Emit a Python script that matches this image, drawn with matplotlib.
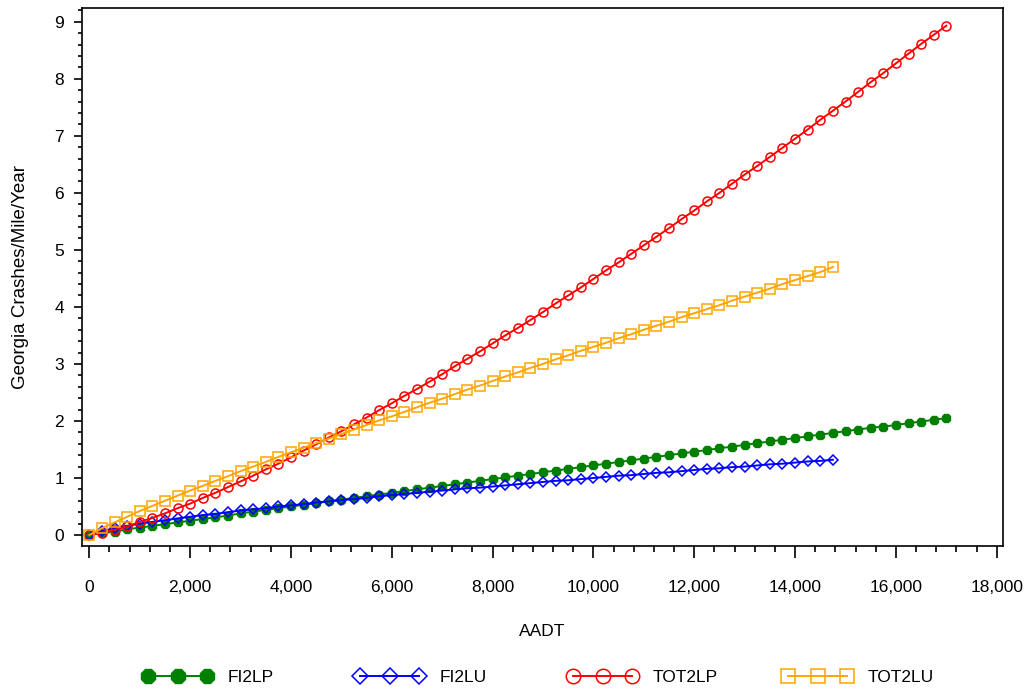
import matplotlib
matplotlib.use("Agg")
import matplotlib.pyplot as plt
from matplotlib.ticker import MultipleLocator, FuncFormatter

plt.rcParams['font.family'] = ['Liberation Sans', 'DejaVu Sans']

# AADT grid (every 250 veh/day)
aadt_lp = list(range(0, 17001, 250))
aadt_lu = list(range(0, 14751, 250))

# crashes/mile/year
fi2lp = [0, 0.03, 0.06, 0.10, 0.13, 0.16, 0.19, 0.22, 0.25, 0.28, 0.31, 0.34,
         0.38, 0.41, 0.44, 0.47, 0.50, 0.53, 0.56, 0.59, 0.62, 0.65, 0.68, 0.71,
         0.74, 0.77, 0.80, 0.83, 0.86, 0.89, 0.92, 0.95, 0.98, 1.01, 1.04, 1.07,
         1.10, 1.13, 1.16, 1.19, 1.22, 1.25, 1.28, 1.31, 1.34, 1.37, 1.40, 1.43,
         1.46, 1.49, 1.52, 1.55, 1.58, 1.61, 1.64, 1.67, 1.70, 1.73, 1.76, 1.79,
         1.82, 1.85, 1.88, 1.90, 1.93, 1.96, 1.99, 2.02, 2.05]
fi2lu = [0, 0.07, 0.12, 0.16, 0.20, 0.23, 0.26, 0.29, 0.32, 0.35, 0.37, 0.40,
         0.43, 0.45, 0.47, 0.50, 0.52, 0.54, 0.57, 0.59, 0.61, 0.63, 0.65, 0.68,
         0.70, 0.72, 0.74, 0.76, 0.78, 0.80, 0.82, 0.83, 0.85, 0.87, 0.89, 0.91,
         0.93, 0.95, 0.96, 0.98, 1.00, 1.02, 1.04, 1.05, 1.07, 1.09, 1.10, 1.12,
         1.14, 1.16, 1.17, 1.19, 1.20, 1.22, 1.24, 1.25, 1.27, 1.29, 1.30, 1.32]
tot2lp = [0, 0.04, 0.09, 0.15, 0.23, 0.30, 0.38, 0.47, 0.55, 0.65, 0.74, 0.84,
          0.94, 1.04, 1.15, 1.25, 1.36, 1.48, 1.59, 1.71, 1.82, 1.94, 2.06, 2.19,
          2.31, 2.44, 2.56, 2.69, 2.82, 2.96, 3.09, 3.22, 3.36, 3.50, 3.63, 3.77,
          3.91, 4.06, 4.20, 4.34, 4.49, 4.64, 4.78, 4.93, 5.08, 5.23, 5.38, 5.54,
          5.69, 5.85, 6.00, 6.16, 6.32, 6.47, 6.63, 6.79, 6.95, 7.11, 7.28, 7.44,
          7.60, 7.77, 7.94, 8.10, 8.27, 8.44, 8.61, 8.77, 8.93]
tot2lu = [0, 0.12, 0.22, 0.32, 0.42, 0.51, 0.60, 0.69, 0.78, 0.86, 0.95, 1.03,
          1.12, 1.20, 1.28, 1.37, 1.45, 1.53, 1.61, 1.69, 1.77, 1.85, 1.93, 2.01,
          2.08, 2.16, 2.24, 2.32, 2.39, 2.47, 2.55, 2.62, 2.70, 2.78, 2.85, 2.93,
          3.00, 3.08, 3.15, 3.23, 3.30, 3.37, 3.45, 3.52, 3.60, 3.67, 3.74, 3.82,
          3.89, 3.96, 4.03, 4.11, 4.18, 4.25, 4.32, 4.40, 4.47, 4.54, 4.61, 4.70]

fig = plt.figure(figsize=(10.33, 6.96), dpi=100)
ax = fig.add_axes([0.0791, 0.2159, 0.8919, 0.7733])

lw = 1.4
lines = []
lines += ax.plot(aadt_lp, fi2lp, color='#008000', marker='8', ms=6.5, mfc='#008000',
                 mec='#008000', mew=1.0, lw=lw, label='FI2LP')
lines += ax.plot(aadt_lu, fi2lu, color='#0000ff', marker='D', ms=5, mfc='none',
                 mec='#0000ff', mew=1.1, lw=lw, label='FI2LU')
lines += ax.plot(aadt_lp, tot2lp, color='#ff0000', marker='o', ms=6.5, mfc='none',
                 mec='#ff0000', mew=1.1, lw=lw, label='TOT2LP')
lines += ax.plot(aadt_lu, tot2lu, color='#ffa500', marker='s', ms=6.5, mfc='none',
                 mec='#ffa500', mew=1.1, lw=lw, label='TOT2LU')

ax.set_xlim(-151, 18125)
ax.set_ylim(-0.188, 9.249)

ax.xaxis.set_major_locator(MultipleLocator(2000))
ax.xaxis.set_minor_locator(MultipleLocator(400))
ax.yaxis.set_major_locator(MultipleLocator(1))
ax.yaxis.set_minor_locator(MultipleLocator(0.2))
ax.xaxis.set_major_formatter(FuncFormatter(lambda v, p: f"{int(v):,}"))

for s in ax.spines.values():
    s.set_linewidth(1.2)

ax.tick_params(axis='x', which='major', direction='out', length=8.6, width=1.2,
               labelsize=12.5, pad=16)
ax.tick_params(axis='x', which='minor', direction='out', length=4.3, width=1.2)
ax.tick_params(axis='y', which='major', direction='out', length=5.8, width=1.2,
               labelsize=12.5, pad=7)
ax.tick_params(axis='y', which='minor', direction='out', length=3.2, width=1.2)

ax.set_xlabel('AADT', fontsize=12.5, labelpad=21)
ax.set_ylabel('Georgia Crashes/Mile/Year', fontsize=13.5, labelpad=18)

# one legend per entry, so the columns sit at evenly spaced positions
leg_x = [143, 355, 568, 783]
for line, x in zip(lines, leg_x):
    fig.legend(handles=[line], loc='center left', bbox_to_anchor=(x / 1033, 0.026),
               frameon=False, numpoints=3, markerscale=1.6, handlelength=4.0,
               handletextpad=0.9, borderpad=0, borderaxespad=0, fontsize=12.5)

fig.savefig('out.png', dpi=100)
